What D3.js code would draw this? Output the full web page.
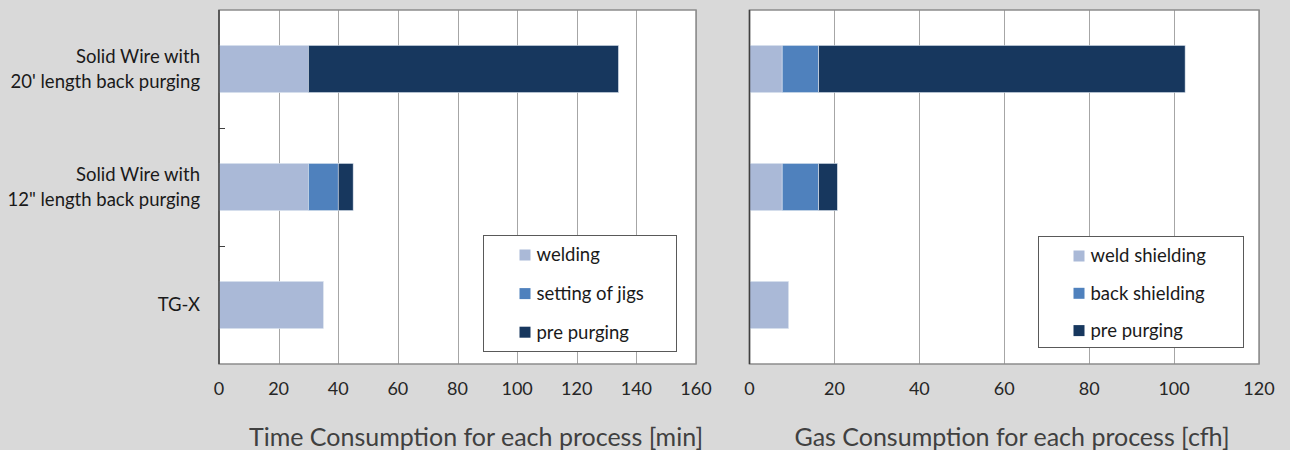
<!DOCTYPE html>
<html>
<head>
<meta charset="utf-8">
<script src="https://cdn.jsdelivr.net/npm/d3@7"></script>
<style>
  html, body { margin: 0; padding: 0; background: #d9d9d9; }
  svg { display: block; font-family: Lato, "Open Sans", sans-serif; }
</style>
</head>
<body>
<script>
const width = 1290, height = 450;

const categories = ["Solid Wire with\n20' length back purging", "Solid Wire with\n12\" length back purging", "TG-X"];

const timeSeries = ["welding", "setting of jigs", "pre purging"];
const timeWelding = [30, 30, 35];
const timeJigs = [0, 10, 0];
const timePrePurging = [104, 5, 0];
const timeTicks = [0, 20, 40, 60, 80, 100, 120, 140, 160];

const gasSeries = ["weld shielding", "back shielding", "pre purging"];
const gasWeld = [7.7, 7.7, 9.2];
const gasBack = [8.6, 8.6, 0];
const gasPrePurging = [86.3, 4.4, 0];
const gasTicks = [0, 20, 40, 60, 80, 100, 120];

const colors = ["#aab9d7", "#4f81bd", "#17375e"];

const svg = d3.select("body").append("svg")
    .attr("width", width)
    .attr("height", height);

const plotTop = 10, plotBottom = 364;

const y = d3.scaleBand()
    .domain(categories)
    .range([plotTop, plotBottom])
    .paddingInner(0.6)
    .paddingOuter(0.3);

function panel(opts) {
  const x = d3.scaleLinear().domain([0, opts.max]).range([opts.x0, opts.x1]);
  const g = svg.append("g");

  g.append("rect")
    .attr("x", opts.x0).attr("y", plotTop)
    .attr("width", opts.x1 - opts.x0).attr("height", plotBottom - plotTop)
    .attr("fill", "#fff");

  // gridlines
  g.selectAll(".grid")
    .data(opts.ticks.slice(1))
    .enter().append("line")
    .attr("x1", d => Math.round(x(d)) + 0.5).attr("x2", d => Math.round(x(d)) + 0.5)
    .attr("y1", plotTop).attr("y2", plotBottom)
    .attr("stroke", "#a6a6a6").attr("stroke-width", 1);

  // border
  g.append("rect")
    .attr("x", opts.x0).attr("y", plotTop)
    .attr("width", opts.x1 - opts.x0).attr("height", plotBottom - plotTop)
    .attr("fill", "none").attr("stroke", "#8c8c8c").attr("stroke-width", 1.5);

  // stacked bars
  const rows = categories.map((c, i) => {
    const r = { cat: c };
    opts.series.forEach((s, j) => r[s] = opts.values[j][i]);
    return r;
  });
  const stacked = d3.stack().keys(opts.series)(rows);

  g.selectAll(".layer")
    .data(stacked)
    .enter().append("g")
    .attr("fill", (d, i) => colors[i])
    .selectAll("rect")
    .data(d => d.filter(p => p[1] > p[0]))
    .enter().append("rect")
    .attr("x", d => x(d[0]))
    .attr("y", d => y(d.data.cat))
    .attr("width", d => x(d[1]) - x(d[0]))
    .attr("height", y.bandwidth())
    .attr("stroke", "#dde4ef")
    .attr("stroke-width", 0.6);

  // value axis line (left)
  g.append("line")
    .attr("x1", opts.x0).attr("x2", opts.x0)
    .attr("y1", plotTop).attr("y2", plotBottom)
    .attr("stroke", "#404040").attr("stroke-width", 1.5);

  // tick labels
  g.selectAll(".tick")
    .data(opts.ticks)
    .enter().append("text")
    .attr("x", d => x(d))
    .attr("y", 394.5)
    .attr("text-anchor", "middle")
    .attr("font-size", 18)
    .attr("fill", "#262626")
    .text(d => d);

  // axis title
  g.append("text")
    .attr("x", opts.titleX)
    .attr("y", 446)
    .attr("text-anchor", "middle")
    .attr("font-size", 25)
    .attr("fill", "#404040")
    .text(opts.title);

  // legend
  const lg = g.append("g").attr("transform", `translate(${opts.legend.x},${opts.legend.y})`);
  lg.append("rect")
    .attr("width", opts.legend.w).attr("height", opts.legend.h)
    .attr("fill", "#fff").attr("stroke", "#595959").attr("stroke-width", 1);
  opts.series.forEach((s, i) => {
    const cy = 19.5 + i * opts.legend.gap;
    lg.append("rect")
      .attr("x", opts.legend.sx).attr("y", cy - 5.5)
      .attr("width", 11).attr("height", 11)
      .attr("fill", colors[i]);
    lg.append("text")
      .attr("x", opts.legend.sx + 17).attr("y", cy)
      .attr("dy", "0.35em")
      .attr("font-size", 18.5)
      .attr("fill", "#1a1a1a")
      .text(s);
  });

  return x;
}

panel({
  x0: 219, x1: 696, max: 160, ticks: timeTicks,
  series: timeSeries, values: [timeWelding, timeJigs, timePrePurging],
  title: "Time Consumption for each process [min]", titleX: 476,
  legend: { x: 483.5, y: 235.5, w: 193, h: 116, sx: 36, gap: 38.6 }
});

panel({
  x0: 749.5, x1: 1259, max: 120, ticks: gasTicks,
  series: gasSeries, values: [gasWeld, gasBack, gasPrePurging],
  title: "Gas Consumption for each process [cfh]", titleX: 1012,
  legend: { x: 1038.5, y: 236.5, w: 205, h: 111, sx: 35, gap: 37.3 }
});

// category ticks on left panel
const step = y.step();
svg.selectAll(".ctick")
  .data(d3.range(1, categories.length))
  .enter().append("line")
  .attr("x1", 219).attr("x2", 225)
  .attr("y1", d => Math.round(plotTop + step * d) + 0.5)
  .attr("y2", d => Math.round(plotTop + step * d) + 0.5)
  .attr("stroke", "#404040");

// category labels
const labels = svg.append("g");
categories.forEach(c => {
  const lines = c.split("\n");
  const cy = y(c) + y.bandwidth() / 2;
  const t = labels.append("text")
    .attr("text-anchor", "end")
    .attr("font-size", 18.5)
    .attr("fill", "#1a1a1a");
  lines.forEach((l, i) => {
    t.append("tspan")
      .attr("x", 200)
      .attr("y", cy + (i - (lines.length - 1) / 2) * 24.5)
      .attr("dy", "0.35em")
      .text(l);
  });
});
</script>
</body>
</html>
